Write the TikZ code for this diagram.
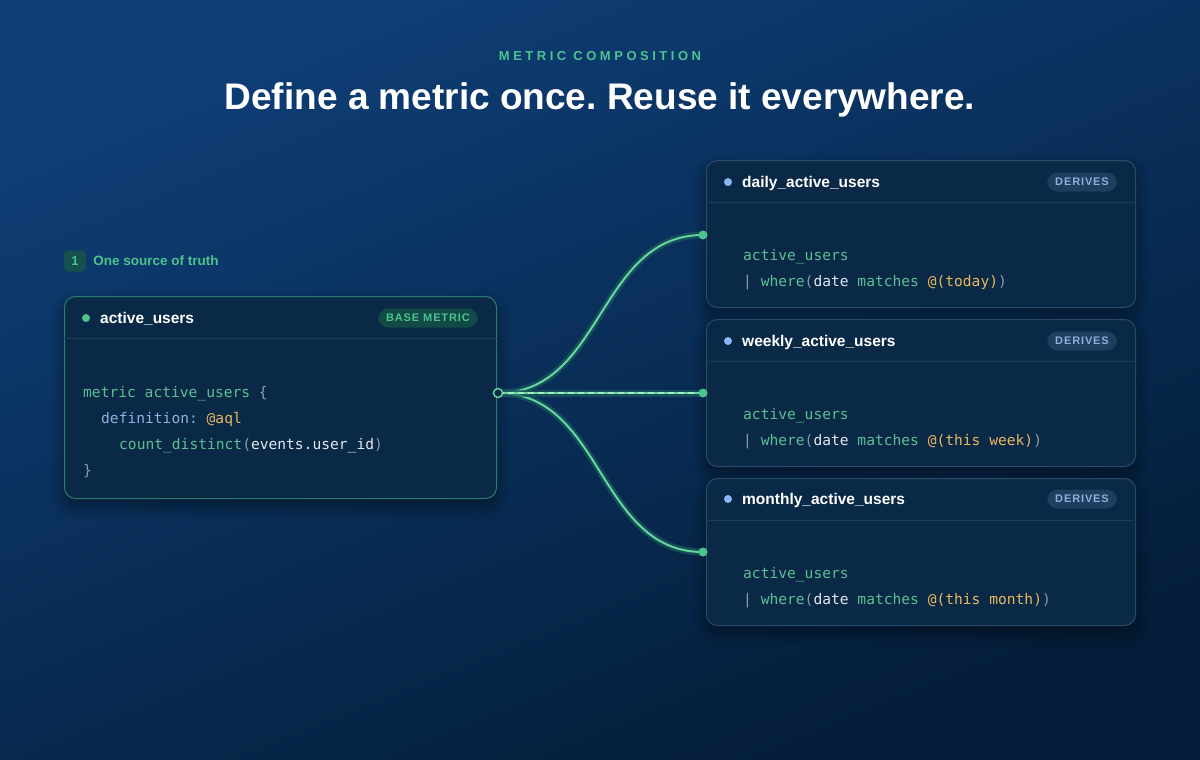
\documentclass[tikz,border=0pt]{standalone}
\usepackage{fontspec}
\setmainfont{Liberation Sans}
\setmonofont{DejaVu Sans Mono}
\newfontfamily\capsfont{Liberation Sans}[LetterSpace=27]
\newfontfamily\pillfont{Liberation Sans}[LetterSpace=8]
\usepackage{xcolor}
\usepackage{tikz}
\usetikzlibrary{positioning,calc,shadows.blur}
\frenchspacing

\definecolor{bglight}{HTML}{0E3E76}
\definecolor{bgdark}{HTML}{041D38}
\definecolor{cardfill}{HTML}{0A2946}
\definecolor{baseedge}{HTML}{2A7C6C}
\definecolor{cardedge}{HTML}{2A4A67}
\definecolor{rulecol}{HTML}{1C3D58}
\definecolor{accent}{HTML}{4CC38E}
\definecolor{wirecol}{HTML}{66D6A0}
\definecolor{wirelight}{HTML}{A6EDC6}
\definecolor{glowcol}{HTML}{1B5A5C}
\definecolor{kwgreen}{HTML}{5DBE95}
\definecolor{codegray}{HTML}{8C9AAE}
\definecolor{codewhite}{HTML}{E3E8EF}
\definecolor{codeblue}{HTML}{8DB1E2}
\definecolor{codeyellow}{HTML}{E8B75E}
\definecolor{dotblue}{HTML}{8AB8F2}
\definecolor{pillgreen}{HTML}{124A47}
\definecolor{pillblue}{HTML}{1F3E60}
\definecolor{pilltext}{HTML}{8DB0DA}
\definecolor{stepfill}{HTML}{15504E}

\newcommand{\tkG}[1]{\textcolor{kwgreen}{#1}}
\newcommand{\tkP}[1]{\textcolor{codegray}{#1}}
\newcommand{\tkW}[1]{\textcolor{codewhite}{#1}}
\newcommand{\tkB}[1]{\textcolor{codeblue}{#1}}
\newcommand{\tkY}[1]{\textcolor{codeyellow}{#1}}

\begin{document}
\begin{tikzpicture}[
  x=1pt, y=-1pt,
  card/.style={draw, fill=cardfill, rounded corners=11pt, line width=1pt, anchor=north west,
    blur shadow={shadow blur steps=10, shadow blur extra rounding=6pt, shadow xshift=0pt,
      shadow yshift=-8pt, shadow opacity=45, shadow blur radius=14pt}},
  cardtitle/.style={anchor=mid west, inner sep=0pt, text=white, font=\bfseries\fontsize{15.5}{15.5}\selectfont},
  dot/.style={circle, inner sep=0pt, minimum size=8pt},
  pill/.style={anchor=east, rounded corners=10pt, minimum height=19pt, inner xsep=8pt, inner ysep=0pt,
    font=\pillfont\bfseries\fontsize{11}{11}\selectfont},
  code/.style={anchor=mid west, inner sep=0pt, font=\ttfamily\fontsize{14.6}{14.6}\selectfont},
  wire/.style={draw=wirecol, line width=2pt, preaction={draw=glowcol, line width=7pt, opacity=0.7}},
  enddot/.style={circle, fill=accent, inner sep=0pt, minimum size=9pt}
]

\useasboundingbox (0,0) rectangle (1200,760);
\shade[shading=axis, top color=bglight, bottom color=bgdark, shading angle=22] (0,0) rectangle (1200,760);

\node[font=\capsfont\bfseries\fontsize{13}{13}\selectfont, text=accent] (kicker) at (600,56) {METRIC COMPOSITION};
\node[font=\bfseries\fontsize{37}{37}\selectfont, text=white] (headline) at (600,100) {Define a metric once. Reuse it everywhere.};

\node[fill=stepfill, rounded corners=4pt, minimum width=22pt, minimum height=21pt, inner sep=0pt,
  text=accent, font=\bfseries\fontsize{13}{13}\selectfont] (step1) at (75,261) {1};
\node[right=7pt of step1, inner sep=0pt, text=accent, font=\bfseries\fontsize{13.5}{13.5}\selectfont] (steplabel) {One source of truth};

\node[card, draw=baseedge, minimum width=432pt, minimum height=202pt] (base) at (64,296) {};
\draw[rulecol] ([yshift=-42pt]base.north west) -- ([yshift=-42pt]base.north east);
\node[dot, fill=accent] (basedot) at (86,318) {};
\node[cardtitle] (basename) at (100,321) {active\_users};
\node[pill, fill=pillgreen, text=accent] (basetag) at (478,318) {BASE METRIC};
\node[code] (bl1) at (83,395) {\tkG{metric} \tkG{active\_users} \tkP{\{}};
\node[code] (bl2) at (101,421) {\tkB{definition:} \tkY{@aql}};
\node[code] (bl3) at (119,447) {\tkG{count\_distinct}\tkP{(}\tkW{events.user\_id}\tkP{)}};
\node[code] (bl4) at (83,473) {\tkP{\}}};

\node[card, draw=cardedge, minimum width=429pt, minimum height=147pt] (daily) at (706,160) {};
\draw[rulecol] ([yshift=-42pt]daily.north west) -- ([yshift=-42pt]daily.north east);
\node[dot, fill=dotblue] (dailydot) at (728,182) {};
\node[cardtitle] (dailyname) at (742,185) {daily\_active\_users};
\node[pill, fill=pillblue, text=pilltext] (dailytag) at (1117,182) {DERIVES};
\node[code] (dl1) at (743,258) {\tkG{active\_users}};
\node[code] (dl2) at (743,284) {\tkP{|} \tkG{where}\tkP{(}\tkW{date} \tkG{matches} \tkY{@(today)}\tkP{)}};

\node[card, draw=cardedge, minimum width=429pt, minimum height=147pt] (weekly) at (706,319) {};
\draw[rulecol] ([yshift=-42pt]weekly.north west) -- ([yshift=-42pt]weekly.north east);
\node[dot, fill=dotblue] (weeklydot) at (728,341) {};
\node[cardtitle] (weeklyname) at (742,344) {weekly\_active\_users};
\node[pill, fill=pillblue, text=pilltext] (weeklytag) at (1117,341) {DERIVES};
\node[code] (wl1) at (743,417) {\tkG{active\_users}};
\node[code] (wl2) at (743,443) {\tkP{|} \tkG{where}\tkP{(}\tkW{date} \tkG{matches} \tkY{@(this week)}\tkP{)}};

\node[card, draw=cardedge, minimum width=429pt, minimum height=147pt] (monthly) at (706,478) {};
\draw[rulecol] ([yshift=-42pt]monthly.north west) -- ([yshift=-42pt]monthly.north east);
\node[dot, fill=dotblue] (monthlydot) at (728,499) {};
\node[cardtitle] (monthlyname) at (742,502) {monthly\_active\_users};
\node[pill, fill=pillblue, text=pilltext] (monthlytag) at (1117,499) {DERIVES};
\node[code] (ml1) at (743,576) {\tkG{active\_users}};
\node[code] (ml2) at (743,602) {\tkP{|} \tkG{where}\tkP{(}\tkW{date} \tkG{matches} \tkY{@(this month)}\tkP{)}};

\coordinate (src) at (498,393);
\coordinate (in1) at (703,235);
\coordinate (in2) at (703,393);
\coordinate (in3) at (703,552);

\draw[wire] (src) .. controls +(105,0) and +(-105,0) .. (in1);
\draw[wire] (src) .. controls +(105,0) and +(-105,0) .. (in3);
\draw[wire, line width=2.6pt, postaction={draw=wirelight, line width=1.4pt, dash pattern=on 6pt off 4pt}] (src) -- (in2);

\node[circle, draw=wirecol, fill=cardfill, line width=1.4pt, inner sep=0pt, minimum size=9pt] (srcdot) at (src) {};
\node[enddot] (in1dot) at (in1) {};
\node[enddot] (in2dot) at (in2) {};
\node[enddot] (in3dot) at (in3) {};

\end{tikzpicture}
\end{document}
